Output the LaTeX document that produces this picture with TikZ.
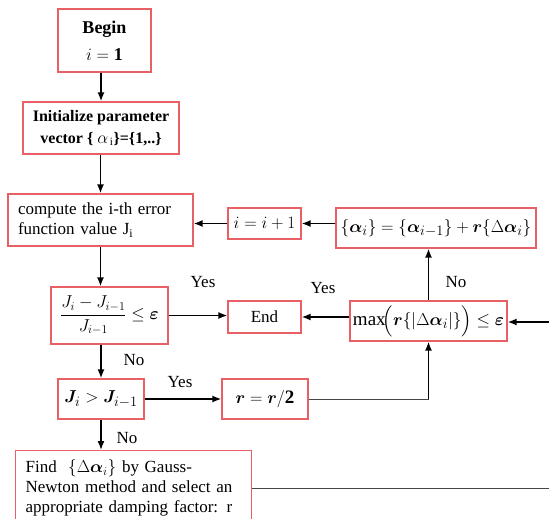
\documentclass[tikz,border=0pt]{standalone}
\usepackage{amsmath,bm}
\usepackage{fontspec}
\setmainfont{Liberation Serif}
\usetikzlibrary{arrows.meta,calc}
\definecolor{boxred}{RGB}{232,96,100}
\definecolor{linegray}{RGB}{70,70,70}

\begin{document}
\begin{tikzpicture}[x=1pt,y=-1pt,
  box/.style={draw=boxred,line width=1.2pt,inner sep=4pt,font=\fontsize{17}{20}\selectfont},
  mbox/.style={box,font=\fontsize{19}{22}\selectfont},
  lbl/.style={font=\fontsize{17}{20}\selectfont},
  arr/.style={-{Latex[length=9pt,width=7pt]},line width=1.6pt},
  thin/.style={line width=1pt,draw=linegray}]
\useasboundingbox (0,0) rectangle (549,519);
% main column
\node[box,minimum width=93pt,minimum height=63pt,align=center,font=\fontsize{18}{20}\selectfont] (begin) at (104.5,40.5) {\textbf{Begin}\\[7pt]$i=\mathbf{1}$};
\node[box,minimum width=156pt,minimum height=52pt,align=center,font=\fontsize{16}{22}\selectfont\bfseries] (init) at (101,128) {Initialize parameter\\vector \{ $\alpha_{\,\mathrm{i}}$\}=\{1,..\}};
\node[box,minimum height=52pt,text width=165pt,inner xsep=10pt,align=left] (comp) at (100.5,220) {compute the i-th error\\function value J$_{\mathrm{i}}$};
\node[box,minimum width=117pt,minimum height=57pt] (ratio) at (109.5,315.5) {$\dfrac{J_i-J_{i-1}}{J_{i-1}}\le\bm{\varepsilon}$};
\node[mbox,minimum width=86pt,minimum height=40pt] (cmp) at (101,399) {$\bm{J}_i>\bm{J}_{i-1}$};
\node[box,anchor=north west,minimum height=75pt,text width=216pt,inner xsep=10pt,align=left] (find) at (15,450) {Find \ $\{\Delta\bm{\alpha}_i\}$ by Gauss-\\Newton method and select an\\appropriate damping factor: r};
% right part
\node[mbox,minimum width=73pt,minimum height=31pt] (inc) at (264.5,223.5) {$i=i+1$};
\node[mbox,minimum width=200pt,minimum height=40pt] (upd) at (436,228) {$\{\bm{\alpha}_i\}=\{\bm{\alpha}_{i-1}\}+\bm{r}\{\Delta\bm{\alpha}_i\}$};
\node[box,minimum width=73pt,minimum height=32pt] (stop) at (264.5,317) {End};
\node[mbox,minimum width=157pt,minimum height=40pt,inner xsep=1pt] (chk) at (428.5,321) {$\max\!\Bigl(\bm{r}\{|\Delta\bm{\alpha}_i|\}\Bigr)\le\bm{\varepsilon}$};
\node[mbox,minimum width=86pt,minimum height=40pt] (half) at (265,399) {$\bm{r}=\bm{r}/\mathbf{2}$};
\coordinate (rimA) at (549,486);
\coordinate (rimB) at (549,322);
% labels
\node[lbl] (yesA) at (203,282) {Yes};
\node[lbl] (yesB) at (323,288) {Yes};
\node[lbl] (noA) at (456,282) {No};
\node[lbl] (noB) at (134,360) {No};
\node[lbl] (noC) at (127,438) {No};
\node[lbl] (yesC) at (180,382) {Yes};
% connectors
\draw[arr] (begin.south -| init) -- (init.north);
\draw[arr] (init.south -| comp) -- (comp.north);
\draw[arr] (comp.south) -- (comp.south |- ratio.north);
\draw[arr] (ratio.south -| cmp) -- (cmp.north);
\draw[arr] (cmp.south) -- (cmp.south |- find.north);
\draw[arr] (cmp.east) -- (half.west);
\draw[arr] (ratio.east) -- (ratio.east -| stop.west);
\draw[arr] (chk.west |- stop.east) -- (stop.east);
\draw[arr] (chk.north) -- (chk.north |- upd.south);
\draw[arr] (upd.west |- inc.east) -- (inc.east);
\draw[arr] (inc.west) -- (inc.west -| comp.east);
\draw[thin] (half.east) -- (half.east -| chk.south);
\draw[arr] (half.east -| chk.south) -- (chk.south);
\draw[thin] (find.east) -- (find.east -| rimA);
\draw[arr] (rimB) -- (rimB -| chk.east);
\end{tikzpicture}
\end{document}
